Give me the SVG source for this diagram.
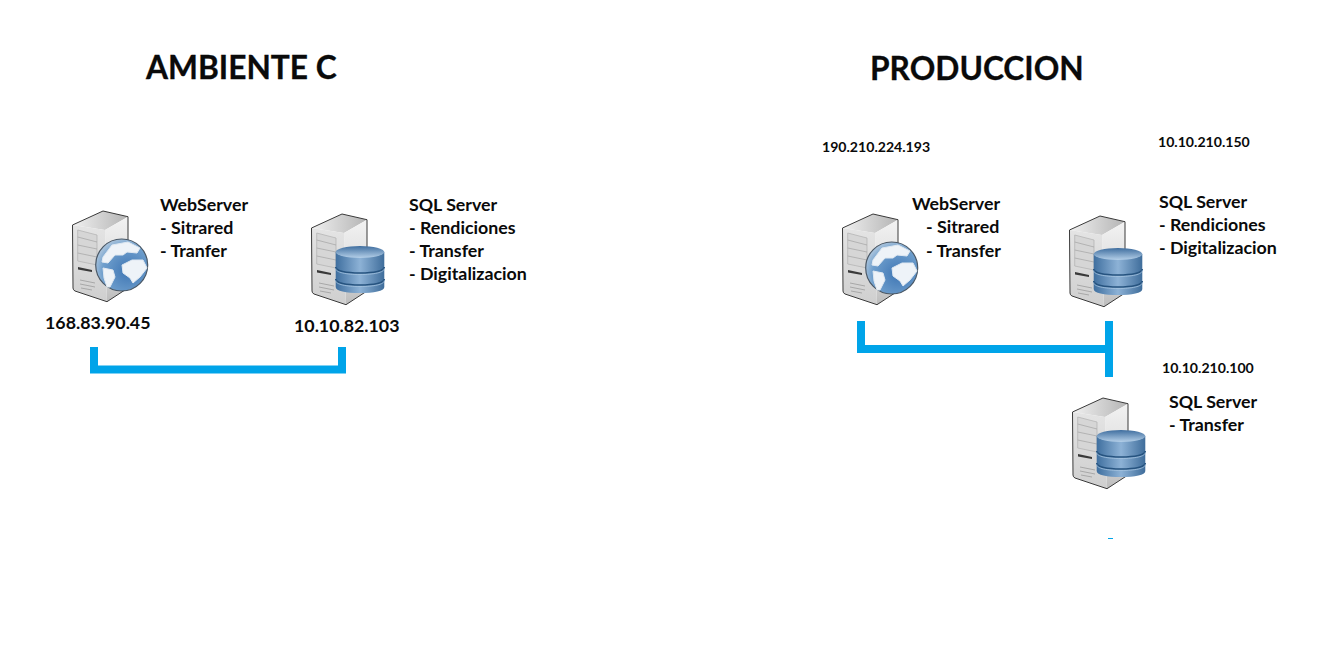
<svg xmlns="http://www.w3.org/2000/svg" width="1344" height="672" viewBox="0 0 1344 672">
<style>
text{font-family:"Lato","Open Sans","Liberation Sans",sans-serif;font-weight:700;fill:#0a0a0a;font-size:17.800px}
.h{font-size:31.700px;stroke:#0a0a0a;stroke-width:.3}
.s{font-size:14.100px}
.c{fill:none;stroke:#00a4e9;stroke-width:8}
</style>
<defs>
<linearGradient id="side" x1="0" x2="0" y1="0" y2="1"><stop offset="0" stop-color="#f2f2f2"/><stop offset=".6" stop-color="#dcdcdc"/><stop offset="1" stop-color="#bcbcbc"/></linearGradient>
<linearGradient id="top" x1="0" x2="1" y1="0" y2="0"><stop offset="0" stop-color="#f0f0f0"/><stop offset="1" stop-color="#b4b4b4"/></linearGradient>
<linearGradient id="front" x1="0" x2="0" y1="0" y2="1"><stop offset="0" stop-color="#e4e4e4"/><stop offset="1" stop-color="#cfcfcf"/></linearGradient>
<linearGradient id="db" x1="0" x2="1" y1="0" y2="0"><stop offset="0" stop-color="#3f6f9f"/><stop offset=".5" stop-color="#8db2d6"/><stop offset="1" stop-color="#3f6d9b"/></linearGradient>
<linearGradient id="dbt" x1="0" x2="0" y1="0" y2="1"><stop offset="0" stop-color="#3f6e9f"/><stop offset="1" stop-color="#b4cfe8"/></linearGradient>
<radialGradient id="gl" cx=".62" cy=".62" r=".7"><stop offset="0" stop-color="#3f76b4"/><stop offset=".7" stop-color="#6f9fcd"/><stop offset="1" stop-color="#b9cde0"/></radialGradient>
<g id="box">
<path d="M.5 14 31 0 56 5.700 33 19Z" fill="url(#top)"/>
<path d="M33 19 56 5.700V77L35 90.700Z" fill="url(#side)"/>
<path d="M.5 14 33 19 35 90.700 3 80Q1 79 1 77Z" fill="url(#front)"/>
<path d="M.5 14 31 0 56 5.700V77L35 90.700 3 80Q1 79 1 77Z" fill="none" stroke="#3a3a3a" stroke-width="1"/>
<path d="M5.700 19 25 24V54L5.700 50Z" fill="#d6d6d6" stroke="#b0b0b0" stroke-width=".7"/>
<path d="M5.700 26 25 31M5.700 34 25 38M5.700 42 25 46" stroke="#a4a4a4" stroke-width=".7" fill="none"/>
<path d="M6 56 20 59V61L6 58.500Z" fill="#3a3a3a"/>
<path d="M8 69 23 72M8 73 23 76M9 77 20 79" stroke="#a8a8a8" fill="none"/>
</g>
<g id="dbs">
<path d="M24.700 38V73C24.700 77 35 79 49 79S73.300 77 73.300 73V38Z" fill="url(#db)"/>
<ellipse cx="49" cy="38" rx="24.300" ry="6" fill="url(#dbt)"/>
<path d="M24.700 53C24.700 57 35 59 49 59S73.300 57 73.300 53M24.700 65C24.700 69 35 71 49 71S73.300 69 73.300 65" fill="none" stroke="#26537f" stroke-width="1.500"/>
<path d="M24.700 54.500C24.700 58.500 35 60.500 49 60.500S73.300 58.500 73.300 54.500M24.700 66.500C24.700 70.500 35 72.500 49 72.500S73.300 70.500 73.300 66.500" fill="none" stroke="#a6c4e0" stroke-width=".8"/>
</g>
<g id="glb">
<circle cx="49.700" cy="54" r="26" fill="url(#gl)" stroke="#4a5866" stroke-width="1.200"/>
<path d="M31 46 40 34 56 31 68 37 65 42 55 41 51 44 43 44 36 52 30 51ZM50 54 60 49 71 49 75 57 68 66 61 72 58 67 51 62ZM31 57 41 59 43 66 38 76 35 76 32 67Z" fill="#eef3f8" stroke="#dfe8f1" stroke-width="1" stroke-linejoin="round"/>
</g>
</defs>
<rect width="1344" height="672" fill="#fff"/>
<g id="connectors">
<path class="c" d="M94 347V369.500H342V347"/>
<path class="c" d="M861 321V349H1109M1109 321V377"/>
<path d="M1108 538.500H1113" stroke="#00a4e9" stroke-width="1" fill="none"/>
</g>
<g id="title-ambiente"><text class="h" x="146" y="79">AMBIENTE C</text></g>
<g id="title-produccion"><text class="h" x="870" y="80">PRODUCCION</text></g>
<g id="amb-web">
<use href="#box" x="72" y="211"/><use href="#glb" x="72" y="211"/>
<text x="160" y="211">WebServer</text><text x="160" y="234">- Sitrared</text><text x="160" y="257">- Tranfer</text>
<text x="45" y="329">168.83.90.45</text>
</g>
<g id="amb-sql">
<use href="#box" x="311" y="214"/><use href="#dbs" x="311" y="214"/>
<text x="409" y="211">SQL Server</text><text x="409" y="234">- Rendiciones</text><text x="409" y="257">- Transfer</text><text x="409" y="280">- Digitalizacion</text>
<text x="294" y="332">10.10.82.103</text>
</g>
<g id="prod-web">
<use href="#box" x="842" y="214"/><use href="#glb" x="842" y="214"/>
<text class="s" x="822" y="152">190.210.224.193</text>
<text x="912" y="210">WebServer</text><text x="926" y="233">- Sitrared</text><text x="926" y="257">- Transfer</text>
</g>
<g id="prod-sql-1">
<use href="#box" x="1069" y="216"/><use href="#dbs" x="1069" y="216"/>
<text class="s" x="1158" y="147">10.10.210.150</text>
<text x="1159" y="208">SQL Server</text><text x="1159" y="231">- Rendiciones</text><text x="1159" y="254">- Digitalizacion</text>
</g>
<g id="prod-sql-2">
<use href="#box" x="1072" y="398"/><use href="#dbs" x="1072" y="398"/>
<text class="s" x="1162" y="373">10.10.210.100</text>
<text x="1169" y="408">SQL Server</text><text x="1169" y="431">- Transfer</text>
</g>
</svg>
